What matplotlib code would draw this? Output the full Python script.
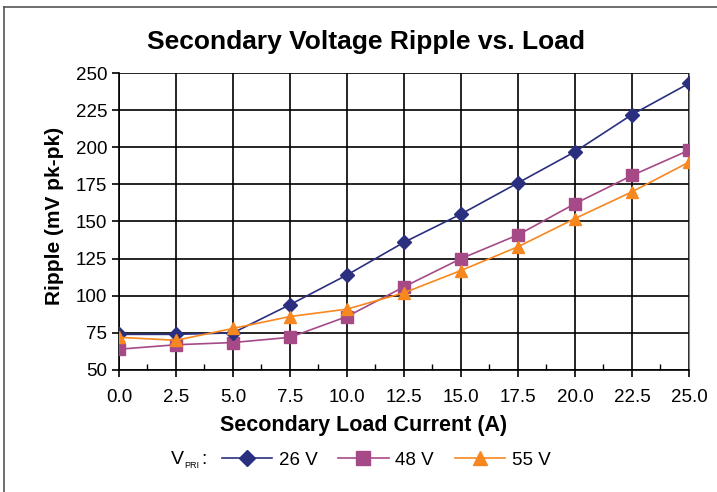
import matplotlib
matplotlib.use("Agg")
import matplotlib.pyplot as plt
from matplotlib.lines import Line2D
import numpy as np

plt.rcParams['font.family'] = ['Liberation Sans', 'DejaVu Sans']

current = [0.0, 2.5, 5.0, 7.5, 10.0, 12.5, 15.0, 17.5, 20.0, 22.5, 25.0]
v26 = [74, 74, 75, 94, 114, 136, 155, 176, 197, 222, 243]
v48 = [64, 67, 68.5, 72, 86, 106, 125, 141, 162, 181, 198]
v55 = [72, 70, 78, 86, 91, 102, 117, 133, 152, 170, 190]
yticks = [50, 75, 100, 125, 150, 175, 200, 225, 250]
xticks = current

W, H = 717, 492
fig = plt.figure(figsize=(W/100, H/100), dpi=100)
ax = fig.add_axes([119/W, 1-370/H, (689-119)/W, (370-73)/H])

ax.plot(current, v26, color='#2b2f7f', lw=1.2, marker='D', ms=7, label='26 V', zorder=5)
ax.plot(current, v48, color='#a54a87', lw=1.2, marker='s', ms=8, label='48 V', zorder=4)
ax.plot(current, v55, color='#f7871f', lw=1.2, marker='^', ms=8, label='55 V', zorder=6)

ax.set_xlim(0, 25)
ax.set_ylim(50, 250)
ax.set_xticks(xticks)
ax.set_xticklabels([f"{x:.1f}" for x in xticks], fontsize=13.5)
ax.set_yticks(yticks)
ax.set_yticklabels([str(y) for y in yticks], fontsize=13.5)
ax.set_xticks(np.arange(1.25, 25, 2.5), minor=True)
ax.tick_params(axis='both', which='major', direction='out', length=5, width=1.2)
ax.tick_params(axis='x', which='major', pad=9)
ax.tick_params(axis='y', which='major', pad=3.5)
ax.tick_params(axis='x', which='minor', direction='in', length=4, width=1.0)
ax.grid(True, which='major', color='black', lw=1.2)
ax.spines['top'].set_visible(False)
ax.spines['right'].set_color('#888888')
ax.spines['left'].set_linewidth(1.2)
ax.spines['bottom'].set_linewidth(1.2)
ax.set_axisbelow(True)

fig.text(366/W, 1-42/H, 'Secondary Voltage Ripple vs. Load', fontsize=19, fontweight='bold',
         ha='center', va='center')
fig.text(364/W, 1-426/H, 'Secondary Load Current (A)', fontsize=15.5, fontweight='bold',
         ha='center', va='center')
fig.text(55/W, 1-216/H, 'Ripple (mV pk-pk)', fontsize=15, fontweight='bold',
         ha='center', va='center', rotation=90)

fig.text(171/W, 1-460/H, 'V', fontsize=14, va='center', ha='left')
fig.text(184/W, 1-466/H, 'PRI', fontsize=6.5, va='center', ha='left')
fig.text(201/W, 1-460/H, ':', fontsize=14, va='center', ha='left')
leg = fig.legend(loc='center left', bbox_to_anchor=(214/W, 1-460/H), ncol=3, frameon=False,
                 fontsize=13.5, handlelength=2.7, columnspacing=1.1, handletextpad=0.35,
                 borderaxespad=0, markerscale=1.2)

# figure border
fig.add_artist(Line2D([4/W, 4/W], [0, 1-7/H], color='#555555', lw=1.2, transform=fig.transFigure))
fig.add_artist(Line2D([4/W, 1], [1-7/H, 1-7/H], color='#555555', lw=1.2, transform=fig.transFigure))

fig.savefig('out.png', dpi=100)
